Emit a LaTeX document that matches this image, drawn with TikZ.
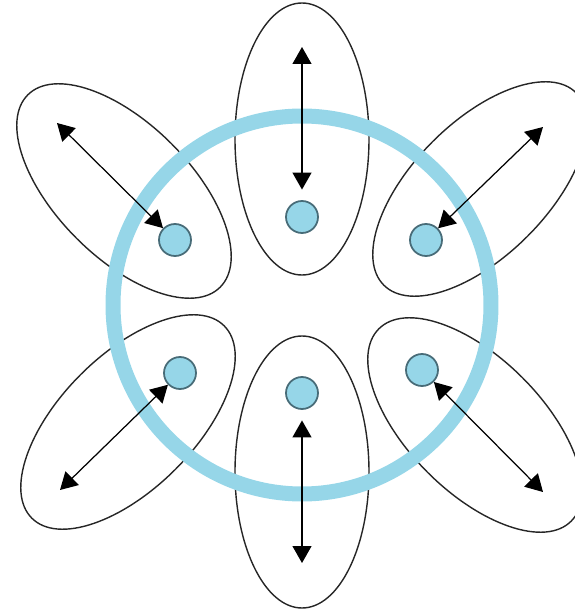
\documentclass[tikz,border=0pt]{standalone}
\usepackage{xcolor}
\usepackage{tikz}
\usetikzlibrary{arrows.meta}

\definecolor{ringblue}{RGB}{150,214,232}
\definecolor{dotrim}{RGB}{72,108,120}

\begin{document}
\begin{tikzpicture}[x=0.02cm, y=0.02cm,
    petal/.style={line width=0.8pt, black!85},
    dot/.style={circle, draw=dotrim, fill=ringblue, line width=1pt,
                minimum size=0.64cm, inner sep=0pt},
    twoway/.style={line width=0.7pt, {Triangle[length=0.34cm, width=0.38cm]}-{Triangle[length=0.34cm, width=0.38cm]}}]
  \useasboundingbox (0,0) rectangle (575,610);
  %% the six petals
  \draw[petal] (302,471) ellipse (67 and 136);
  \draw[petal] (302,138) ellipse (67 and 136);
  \draw[petal, rotate around={45:(124,419)}] (124,419) ellipse (67 and 136);
  \draw[petal, rotate around={-45:(480,421)}] (480,421) ellipse (67 and 136);
  \draw[petal, rotate around={-45:(128,188)}] (128,188) ellipse (67 and 136);
  \draw[petal, rotate around={45:(475,185)}] (475,185) ellipse (67 and 136);
  %% ring
  \draw[ringblue, line width=0.3cm] (302,305) circle (189);
  %% dots on the petals
  \node[dot] (ctop) at (302,393) {};
  \node[dot] (cul) at (175,370) {};
  \node[dot] (cur) at (426,370) {};
  \node[dot] (cll) at (180,237) {};
  \node[dot] (cbot) at (302,217) {};
  \node[dot] (clr) at (422,240) {};
  %% outer ends of the arrows
  \coordinate (etop) at (302,563);
  \coordinate (eul) at (57,487);
  \coordinate (eur) at (543,483);
  \coordinate (ell) at (60,120);
  \coordinate (ebot) at (302,47);
  \coordinate (elr) at (543,118);
  \draw[twoway, shorten <=6] (ctop) -- (etop);
  \draw[twoway] (cul) -- (eul);
  \draw[twoway] (cur) -- (eur);
  \draw[twoway] (cll) -- (ell);
  \draw[twoway, shorten <=6] (cbot) -- (ebot);
  \draw[twoway] (clr) -- (elr);
\end{tikzpicture}
\end{document}
